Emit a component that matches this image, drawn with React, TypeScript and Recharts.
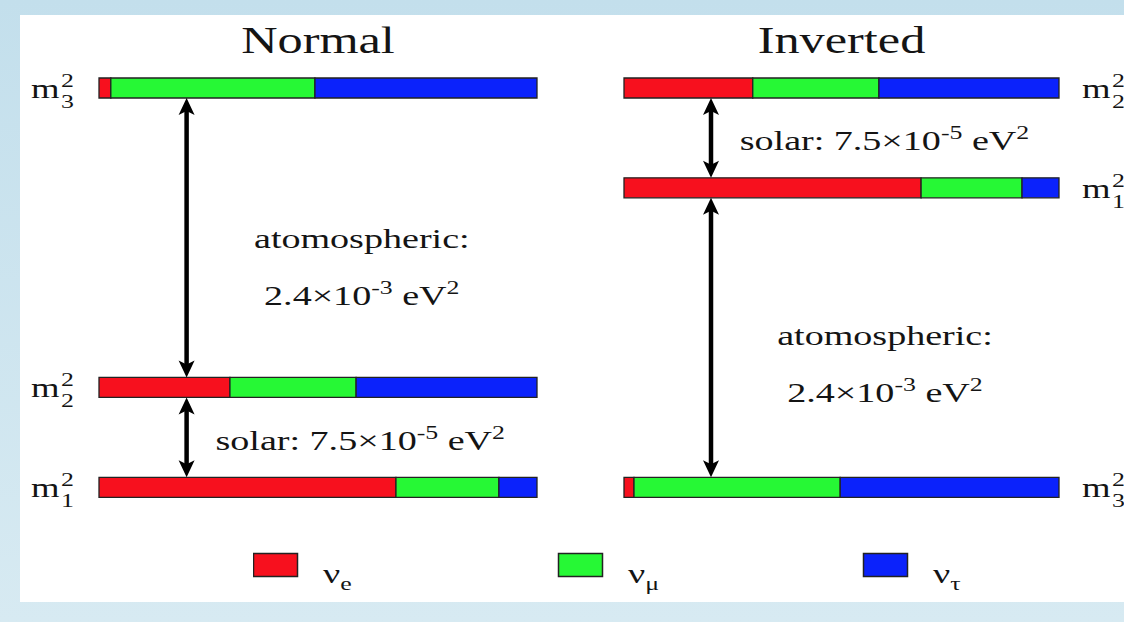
import React from 'react'
import { Bar, ComposedChart, Legend, ReferenceDot, ReferenceLine, XAxis, YAxis } from 'recharts'

// flavour content of each mass state (fractions of the bar)
const flavourKeys = ['e', 'mu', 'tau']
const flavourNames = ['νe', 'νμ', 'ντ']
const flavourColors = ['#f7101e', '#26f835', '#0b22fb']

// Normal ordering: m3 on top, then m2, m1 at the bottom
const normalStates = ['3', '2', '1']
const normalLevels = [4, 1, 0]
const normalE = [0.027, 0.299, 0.678]
const normalMu = [0.466, 0.288, 0.235]
const normalTau = [0.507, 0.413, 0.087]

// Inverted ordering: m2 on top, then m1, m3 at the bottom
const invertedStates = ['2', '1', '3']
const invertedLevels = [4, 3, 0]
const invertedE = [0.296, 0.683, 0.023]
const invertedMu = [0.29, 0.232, 0.474]
const invertedTau = [0.414, 0.085, 0.503]

// mass splittings drawn as double arrows (upper level, lower level)
const normalGaps = [[4, 1], [1, 0]]
const invertedGaps = [[4, 3], [3, 0]]

const titles = ['Normal', 'Inverted']
const atmLabel = 'atomospheric:'
const atmValue = ['2.4×10', '-3', ' eV', '2']
const solarValue = ['solar: 7.5×10', '-5', ' eV', '2']

const SERIF = '"Liberation Serif", "Times New Roman", serif'
const INK = '#141414'
const STRETCH = 1.36
const BAR_HALF = 10
const Y_DOMAIN = [-1.2, 4.6]

const buildRows = (levels: number[], states: string[], e: number[], mu: number[], tau: number[]) =>
  levels.map((level, i) => ({ level, state: states[i], e: e[i], mu: mu[i], tau: tau[i] }))

const normalData = buildRows(normalLevels, normalStates, normalE, normalMu, normalTau)
const invertedData = buildRows(invertedLevels, invertedStates, invertedE, invertedMu, invertedTau)

// text with alternating normal / superscript parts, stretched sideways like the original figure
const SerifText = ({ x, y, parts, size, anchor = 'start' }: {
  x: number
  y: number
  parts: string[]
  size: number
  anchor?: 'start' | 'middle' | 'end'
}) => {
  const rise = Math.round(size * 0.4)
  return (
    <g transform={`translate(${x},${y}) scale(${STRETCH},1)`}>
      <text x={0} y={0} textAnchor={anchor} fontFamily={SERIF} fontSize={size} fill={INK}>
        {parts.map((p, i) =>
          i % 2 === 0 ? (
            <tspan key={i} dy={i === 0 ? 0 : rise} fontSize={size}>
              {p}
            </tspan>
          ) : (
            <tspan key={i} dy={-rise} fontSize={Math.round(size * 0.68)}>
              {p}
            </tspan>
          ),
        )}
      </text>
    </g>
  )
}

const DoubleArrow = (props: any) => {
  const { x1, y1, x2, y2 } = props
  const x = (x1 + x2) / 2
  const top = Math.min(y1, y2) + BAR_HALF
  const bottom = Math.max(y1, y2) - BAR_HALF
  const len = 17
  const half = 8
  return (
    <g>
      <line x1={x} y1={top + 12} x2={x} y2={bottom - 12} stroke="#000" strokeWidth={4.5} />
      <polygon
        points={`${x},${top} ${x - half},${top + len} ${x},${top + 13} ${x + half},${top + len}`}
        fill="#000"
      />
      <polygon
        points={`${x},${bottom} ${x - half},${bottom - len} ${x},${bottom - 13} ${x + half},${bottom - len}`}
        fill="#000"
      />
    </g>
  )
}

const LevelTick = (props: any) => {
  const { x, y, payload, side, data } = props
  const row = data.find((r: any) => r.level === payload.value)
  const dx = side === 'left' ? -68 : 23
  return (
    <g transform={`translate(${x + dx},${y}) scale(${STRETCH},1)`}>
      <text fontFamily={SERIF} fill={INK}>
        <tspan x={0} y={10} fontSize={27}>
          m
        </tspan>
        <tspan x={22} y={-1} fontSize={19}>
          2
        </tspan>
        <tspan x={22} y={20} fontSize={19}>
          {row ? row.state : ''}
        </tspan>
      </text>
    </g>
  )
}

const NeutrinoLegend = ({ payload }: any) => (
  <svg width={720} height={50}>
    {(payload || []).map((entry: any, i: number) => (
      <g key={entry.value} transform={`translate(${i * 305},0)`}>
        <rect x={0.5} y={3.5} width={44} height={23} fill={entry.color} stroke="#222" strokeWidth={1.5} />
        <g transform={`translate(70,33) scale(${STRETCH},1)`}>
          <text fontFamily={SERIF} fill={INK} fontSize={28}>
            {String(entry.value).slice(0, 1)}
            <tspan dy={7} fontSize={19}>
              {String(entry.value).slice(1)}
            </tspan>
          </text>
        </g>
      </g>
    ))}
  </svg>
)

const Panel = ({
  data,
  gaps,
  title,
  side,
  margin,
  atmY,
  solarY,
  showLegend,
}: {
  data: any[]
  gaps: number[][]
  title: string
  side: 'left' | 'right'
  margin: { top: number; right: number; bottom: number; left: number }
  atmY: number
  solarY: number
  showLegend?: boolean
}) => (
  <ComposedChart width={562} height={622} data={data} layout="vertical" margin={margin}>
    <XAxis type="number" domain={[0, 1]} hide />
    <YAxis
      type="number"
      dataKey="level"
      orientation={side}
      domain={Y_DOMAIN}
      reversed
      ticks={data.map(d => d.level)}
      axisLine={false}
      tickLine={false}
      tickSize={0}
      tickMargin={0}
      width={side === 'left' ? 80 : 60}
      tick={(p: any) => <LevelTick {...p} side={side} data={data} />}
    />
    {flavourKeys.map((key, i) => (
      <Bar
        key={key}
        dataKey={key}
        name={flavourNames[i]}
        stackId="mix"
        fill={flavourColors[i]}
        stroke="#222"
        strokeWidth={1.3}
        barSize={20}
        isAnimationActive={false}
      />
    ))}
    {gaps.map(([hi, lo]) => (
      <ReferenceLine
        key={`${hi}-${lo}`}
        segment={[
          { x: 0.2, y: hi },
          { x: 0.2, y: lo },
        ]}
        shape={DoubleArrow}
      />
    ))}
    <ReferenceDot
      x={0.5}
      y={4.35}
      ifOverflow="visible"
      shape={(p: any) => <SerifText x={p.cx} y={p.cy} parts={[title]} size={37} anchor="middle" />}
    />
    <ReferenceDot
      x={0.6}
      y={atmY}
      ifOverflow="visible"
      shape={(p: any) => <SerifText x={p.cx} y={p.cy} parts={[atmLabel]} size={28} anchor="middle" />}
    />
    <ReferenceDot
      x={0.6}
      y={atmY - 0.57}
      ifOverflow="visible"
      shape={(p: any) => <SerifText x={p.cx} y={p.cy} parts={atmValue} size={28} anchor="middle" />}
    />
    <ReferenceDot
      x={0.266}
      y={solarY}
      ifOverflow="visible"
      shape={(p: any) => <SerifText x={p.cx} y={p.cy} parts={solarValue} size={28} />}
    />
    {showLegend && (
      <Legend
        layout="horizontal"
        verticalAlign="middle"
        align="center"
        content={NeutrinoLegend}
        wrapperStyle={{ left: 253, top: 550, width: 720, height: 50 }}
      />
    )}
  </ComposedChart>
)

export default function App() {
  return (
    <div
      style={{
        position: 'absolute',
        left: 0,
        top: 0,
        width: 1124,
        height: 622,
        overflow: 'hidden',
        background: 'linear-gradient(#c3dfec, #d7eaf2)',
      }}
    >
      <div style={{ position: 'absolute', left: 20, top: 15, width: 1104, height: 587, background: '#fff' }} />
      <div style={{ position: 'absolute', left: 0, top: 0 }}>
        <Panel
          data={normalData}
          gaps={normalGaps}
          title={titles[0]}
          side="left"
          margin={{ top: 28, right: 25, bottom: 15, left: 19 }}
          atmY={2.4}
          solarY={0.37}
          showLegend
        />
      </div>
      <div style={{ position: 'absolute', left: 562, top: 0 }}>
        <Panel
          data={invertedData}
          gaps={invertedGaps}
          title={titles[1]}
          side="right"
          margin={{ top: 28, right: 5, bottom: 15, left: 62 }}
          atmY={1.42}
          solarY={3.38}
        />
      </div>
    </div>
  )
}
